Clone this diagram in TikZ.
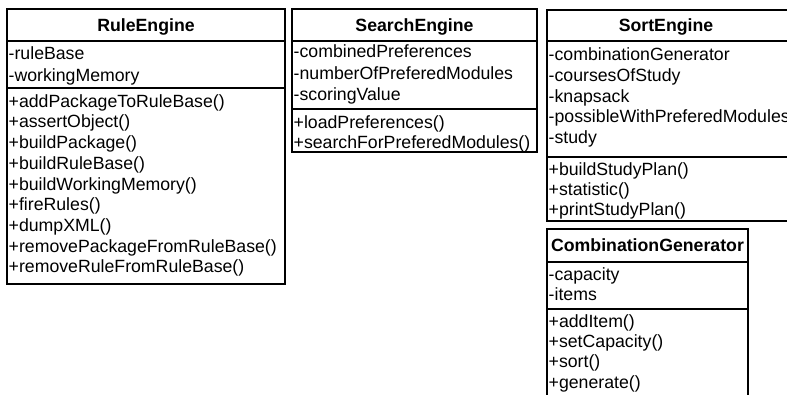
\documentclass[tikz,border=0pt]{standalone}
\usepackage{fontspec}
\setmainfont{Liberation Sans}
\begin{document}
\begin{tikzpicture}[x=1bp,y=-1bp,
  box/.style={draw=black,line width=1.4bp},
  member/.style={anchor=base west,inner sep=0pt,font=\fontsize{17.7bp}{20bp}\selectfont},
  cname/.style={anchor=base,inner sep=0pt,font=\fontsize{17.7bp}{20bp}\selectfont\bfseries}]
\useasboundingbox (0,0) rectangle (787,394);
\begin{scope}
\clip (0,0) rectangle (787,394);
% ---------------- RuleEngine
\draw[box] (7,9) rectangle (285,284);
\draw[box] (7,41) -- (285,41);
\draw[box] (7,88) -- (285,88);
\node[cname] (reTitle) at (146,31) {RuleEngine};
\node[member] (reA1) at (8.5,59) {-ruleBase};
\node[member] (reA2) at (8.5,81) {-workingMemory};
\node[member] (reM1) at (8.5,107.2) {+addPackageToRuleBase()};
\node[member] (reM2) at (8.5,127.9) {+assertObject()};
\node[member] (reM3) at (8.5,148.6) {+buildPackage()};
\node[member] (reM4) at (8.5,169.3) {+buildRuleBase()};
\node[member] (reM5) at (8.5,190.0) {+buildWorkingMemory()};
\node[member] (reM6) at (8.5,210.7) {+fireRules()};
\node[member] (reM7) at (8.5,231.4) {+dumpXML()};
\node[member] (reM8) at (8.5,252.1) {+removePackageFromRuleBase()};
\node[member] (reM9) at (8.5,272.8) {+removeRuleFromRuleBase()};
% ---------------- SearchEngine
\draw[box] (292,9) rectangle (537,152);
\draw[box] (292,41) -- (537,41);
\draw[box] (292,109) -- (537,109);
\node[cname] (seTitle) at (414.5,31) {SearchEngine};
\node[member] (seA1) at (293.5,57.5) {-combinedPreferences};
\node[member] (seA2) at (293.5,79) {-numberOfPreferedModules};
\node[member] (seA3) at (293.5,100.5) {-scoringValue};
\node[member] (seM1) at (293.5,128) {+loadPreferences()};
\node[member] (seM2) at (293.5,148) {+searchForPreferedModules()};
% ---------------- SortEngine
\draw[box] (800,10) -- (547,10) -- (547,221) -- (800,221);
\draw[box] (547,41) -- (800,41);
\draw[box] (547,157) -- (800,157);
\node[cname] (soTitle) at (666,31) {SortEngine};
\node[member] (soA1) at (548.5,60) {-combinationGenerator};
\node[member] (soA2) at (548.5,81) {-coursesOfStudy};
\node[member] (soA3) at (548.5,102) {-knapsack};
\node[member] (soA4) at (548.5,122.5) {-possibleWithPreferedModules};
\node[member] (soA5) at (548.5,143) {-study};
\node[member] (soM1) at (548.5,175.5) {+buildStudyPlan()};
\node[member] (soM2) at (548.5,195.5) {+statistic()};
\node[member] (soM3) at (548.5,215.5) {+printStudyPlan()};
% ---------------- CombinationGenerator
\draw[box] (547,400) -- (547,229) -- (748,229) -- (748,400);
\draw[box] (547,262) -- (748,262);
\draw[box] (547,309) -- (748,309);
\node[cname] (cgTitle) at (647.5,251) {CombinationGenerator};
\node[member] (cgA1) at (548.5,280.5) {-capacity};
\node[member] (cgA2) at (548.5,300.5) {-items};
\node[member] (cgM1) at (548.5,327.2) {+addItem()};
\node[member] (cgM2) at (548.5,347.2) {+setCapacity()};
\node[member] (cgM3) at (548.5,367.2) {+sort()};
\node[member] (cgM4) at (548.5,388.5) {+generate()};
\end{scope}
\end{tikzpicture}
\end{document}
